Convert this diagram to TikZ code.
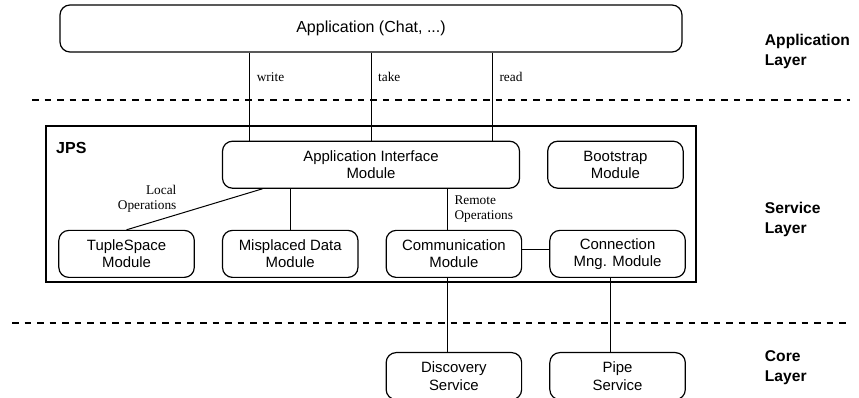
\documentclass[tikz,border=0pt]{standalone}
\usepackage{fontspec}
\setmainfont{Liberation Sans}
\newfontfamily\oplabelfont{Liberation Serif}
\usepackage{tikz}
\usetikzlibrary{positioning}

\begin{document}
\begin{tikzpicture}[
  x=0.75pt, y=-0.75pt,
  line width=0.75pt,
  mymodule/.style={
    draw,
    rounded corners=7.5pt,
    line width=0.9pt,
    minimum width=#1,
    minimum height=35.25pt,
    align=center,
    font=\fontsize{11.2}{13}\selectfont
    },
  mymodule/.default=101.6pt,
  myop/.style={
    font=\oplabelfont\fontsize{10}{11}\selectfont,
    inner sep=1pt
    },
  mylayer/.style={
    font=\fontsize{11.7}{15}\selectfont\bfseries,
    align=left,
    anchor=west
    },
  mydash/.style={dash pattern=on 4.9pt off 4.5pt, line width=0.9pt}
]
\useasboundingbox (0,0) rectangle (859,398);

% layer separators
\draw[mydash] (32,100) -- (850,100);
\draw[mydash] (12,323) -- (850,323);

\node[mylayer] (applayer) at (760,51) {Application\\Layer};
\node[mylayer] (servlayer) at (760,219) {Service\\Layer};
\node[mylayer] (corelayer) at (760,368) {Core\\Layer};

% application layer
\node[mymodule=466.5pt, font=\fontsize{12}{14}\selectfont] (app) at (371,28.5) {Application (Chat, ...)};

% service layer
\node[draw, line width=1.1pt, minimum width=487.5pt, minimum height=117pt] (jps) at (371,204) {};
\node[font=\fontsize{12}{14}\selectfont\bfseries, anchor=base west]
  (jpslabel) at ([shift={(4.5pt,-21pt)}]jps.north west) {JPS};

\node[mymodule=222.75pt] (aim) [below=66pt of app] {Application Interface\\Module};
\node[mymodule] (boot) [right=20.25pt of aim] {Bootstrap\\Module};

\node[mymodule] (misplaced) [below=30.75pt of aim.south west, anchor=north west] {Misplaced Data\\Module};
\node[mymodule] (tuple) [left=20.25pt of misplaced] {TupleSpace\\Module};
\node[mymodule] (comm) [right=20.25pt of misplaced] {Communication\\Module};
\node[mymodule] (conn) [right=20.25pt of comm] {Connection\\Mng. Module};

% core layer
\node[mymodule] (disc) [below=55.5pt of comm] {Discovery\\Service};
\node[mymodule] (pipe) [below=55.5pt of conn] {Pipe\\Service};

% connectors
\foreach \dx/\op in {-91pt/write, 0pt/take, 91pt/read}
  \draw ([xshift=\dx]app.south) -- ([xshift=\dx]aim.north)
    node[myop, pos=0.28, right=4pt] {\op};

\draw (tuple.north) -- ([xshift=-81.4pt]aim.south)
  node[myop, pos=0.38, anchor=south east, align=right] {Local\\Operations};
\draw (misplaced.north) -- (misplaced.north |- aim.south);

\coordinate (remote) at ([xshift=-4.9pt]comm.north);
\draw (remote) -- (remote |- aim.south)
  node[myop, midway, right=4pt, align=left] {Remote\\Operations};
\draw ([yshift=3pt]comm.east) -- ([yshift=3pt]conn.west);

\draw (remote |- comm.south) -- (remote |- disc.north);
\coordinate (pipeline) at ([xshift=-5.25pt]conn.south);
\draw (pipeline) -- (pipeline |- pipe.north);
\end{tikzpicture}
\end{document}
